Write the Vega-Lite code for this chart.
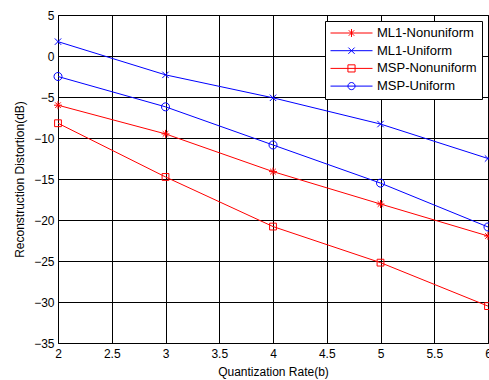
{
  "$schema": "https://vega.github.io/schema/vega-lite/v6.json",
  "width": 430,
  "height": 328,
  "autosize": {"type": "none"},
  "padding": {"left": 58, "top": 15, "right": 1, "bottom": 37},
  "background": "white",
  "data": {"values": [
    {"rate": 2, "distortion": -6.0, "series": "ML1-Nonuniform"},
    {"rate": 3, "distortion": -9.5, "series": "ML1-Nonuniform"},
    {"rate": 4, "distortion": -14.1, "series": "ML1-Nonuniform"},
    {"rate": 5, "distortion": -18.05, "series": "ML1-Nonuniform"},
    {"rate": 6, "distortion": -21.95, "series": "ML1-Nonuniform"},
    {"rate": 2, "distortion": 1.75, "series": "ML1-Uniform"},
    {"rate": 3, "distortion": -2.3, "series": "ML1-Uniform"},
    {"rate": 4, "distortion": -5.1, "series": "ML1-Uniform"},
    {"rate": 5, "distortion": -8.3, "series": "ML1-Uniform"},
    {"rate": 6, "distortion": -12.5, "series": "ML1-Uniform"},
    {"rate": 2, "distortion": -8.2, "series": "MSP-Nonuniform"},
    {"rate": 3, "distortion": -14.75, "series": "MSP-Nonuniform"},
    {"rate": 4, "distortion": -20.8, "series": "MSP-Nonuniform"},
    {"rate": 5, "distortion": -25.2, "series": "MSP-Nonuniform"},
    {"rate": 6, "distortion": -30.5, "series": "MSP-Nonuniform"},
    {"rate": 2, "distortion": -2.5, "series": "MSP-Uniform"},
    {"rate": 3, "distortion": -6.2, "series": "MSP-Uniform"},
    {"rate": 4, "distortion": -10.85, "series": "MSP-Uniform"},
    {"rate": 5, "distortion": -15.5, "series": "MSP-Uniform"},
    {"rate": 6, "distortion": -20.85, "series": "MSP-Uniform"}
  ]},
  "config": {
    "font": "Liberation Sans",
    "view": {"stroke": "#000", "strokeWidth": 1},
    "axis": {
      "grid": true,
      "gridColor": "#000",
      "gridOpacity": 1,
      "gridWidth": 1,
      "domain": false,
      "ticks": false,
      "labelFont": "Liberation Sans",
      "labelFontSize": 12,
      "labelColor": "#000",
      "titleFont": "Liberation Sans",
      "titleFontSize": 12,
      "titleFontWeight": "normal",
      "titleColor": "#000"
    }
  },
  "encoding": {
    "x": {
      "field": "rate", "type": "quantitative",
      "scale": {"domain": [2, 6], "nice": false, "zero": false},
      "axis": {"title": "Quantization Rate(b)", "values": [2, 2.5, 3, 3.5, 4, 4.5, 5, 5.5, 6], "format": "~g", "labelPadding": 5, "titlePadding": 7, "labelOverlap": false, "labelFlush": false}
    },
    "y": {
      "field": "distortion", "type": "quantitative",
      "scale": {"domain": [-35, 5], "nice": false, "zero": false},
      "axis": {"title": "Reconstruction Distortion(dB)", "values": [-35, -30, -25, -20, -15, -10, -5, 0, 5], "labelPadding": 4, "titlePadding": 7, "labelOverlap": false}
    }
  },
  "layer": [
    {
      "mark": {"type": "line", "strokeWidth": 1},
      "encoding": {
        "color": {"field": "series", "type": "nominal",
          "scale": {"domain": ["ML1-Nonuniform", "ML1-Uniform", "MSP-Nonuniform", "MSP-Uniform"], "range": ["#ff0000", "#0000ff", "#ff0000", "#0000ff"]},
          "legend": null}
      }
    },
    {
      "mark": {"type": "point", "filled": false, "strokeWidth": 1, "size": 64, "opacity": 1},
      "encoding": {
        "color": {"field": "series", "type": "nominal",
          "scale": {"domain": ["ML1-Nonuniform", "ML1-Uniform", "MSP-Nonuniform", "MSP-Uniform"], "range": ["#ff0000", "#0000ff", "#ff0000", "#0000ff"]},
          "legend": null},
        "shape": {"field": "series", "type": "nominal",
          "scale": {"domain": ["ML1-Nonuniform", "ML1-Uniform", "MSP-Nonuniform", "MSP-Uniform"],
            "range": [
              "M-1,0H1M0,-1V1M-0.7,-0.7L0.7,0.7M-0.7,0.7L0.7,-0.7",
              "M-0.8,-0.8L0.8,0.8M-0.8,0.8L0.8,-0.8",
              "M-0.85,-0.85H0.85V0.85H-0.85Z",
              "M1,0A1,1,0,1,1,-1,0A1,1,0,1,1,1,0"
            ]},
          "legend": null}
      }
    },
    {
      "transform": [{"filter": "datum.rate > 100"}],
      "mark": {"type": "point", "filled": false, "strokeWidth": 1, "size": 1764, "opacity": 1},
      "encoding": {
        "color": {"field": "series", "type": "nominal",
          "scale": {"domain": ["ML1-Nonuniform", "ML1-Uniform", "MSP-Nonuniform", "MSP-Uniform"], "range": ["#ff0000", "#0000ff", "#ff0000", "#0000ff"]},
          "legend": {"title": null, "orient": "top-right", "offset": 6, "fillColor": "white", "strokeColor": "black", "padding": 5, "symbolSize": 1764, "symbolStrokeWidth": 1, "clipHeight": 14, "rowPadding": 3.7, "labelOffset": 4, "labelFont": "Liberation Sans", "labelFontSize": 13, "labelColor": "#000"}},
        "shape": {"field": "series", "type": "nominal",
          "scale": {"domain": ["ML1-Nonuniform", "ML1-Uniform", "MSP-Nonuniform", "MSP-Uniform"],
            "range": [
              "M-1,0H1M0,-0.19V0.19M-0.13,-0.13L0.13,0.13M-0.13,0.13L0.13,-0.13",
              "M-1,0H1M-0.15,-0.15L0.15,0.15M-0.15,0.15L0.15,-0.15",
              "M-1,0H1M-0.17,-0.17H0.17V0.17H-0.17Z",
              "M-1,0H1M0.17,0A0.17,0.17,0,1,1,-0.17,0A0.17,0.17,0,1,1,0.17,0"
            ]},
          "legend": {"title": null, "orient": "top-right", "offset": 6, "fillColor": "white", "strokeColor": "black", "padding": 5, "symbolSize": 1764, "symbolStrokeWidth": 1, "clipHeight": 14, "rowPadding": 3.7, "labelOffset": 4, "labelFont": "Liberation Sans", "labelFontSize": 13, "labelColor": "#000"}}
      }
    }
  ],
  "resolve": {"scale": {"color": "independent", "shape": "independent"}}
}
